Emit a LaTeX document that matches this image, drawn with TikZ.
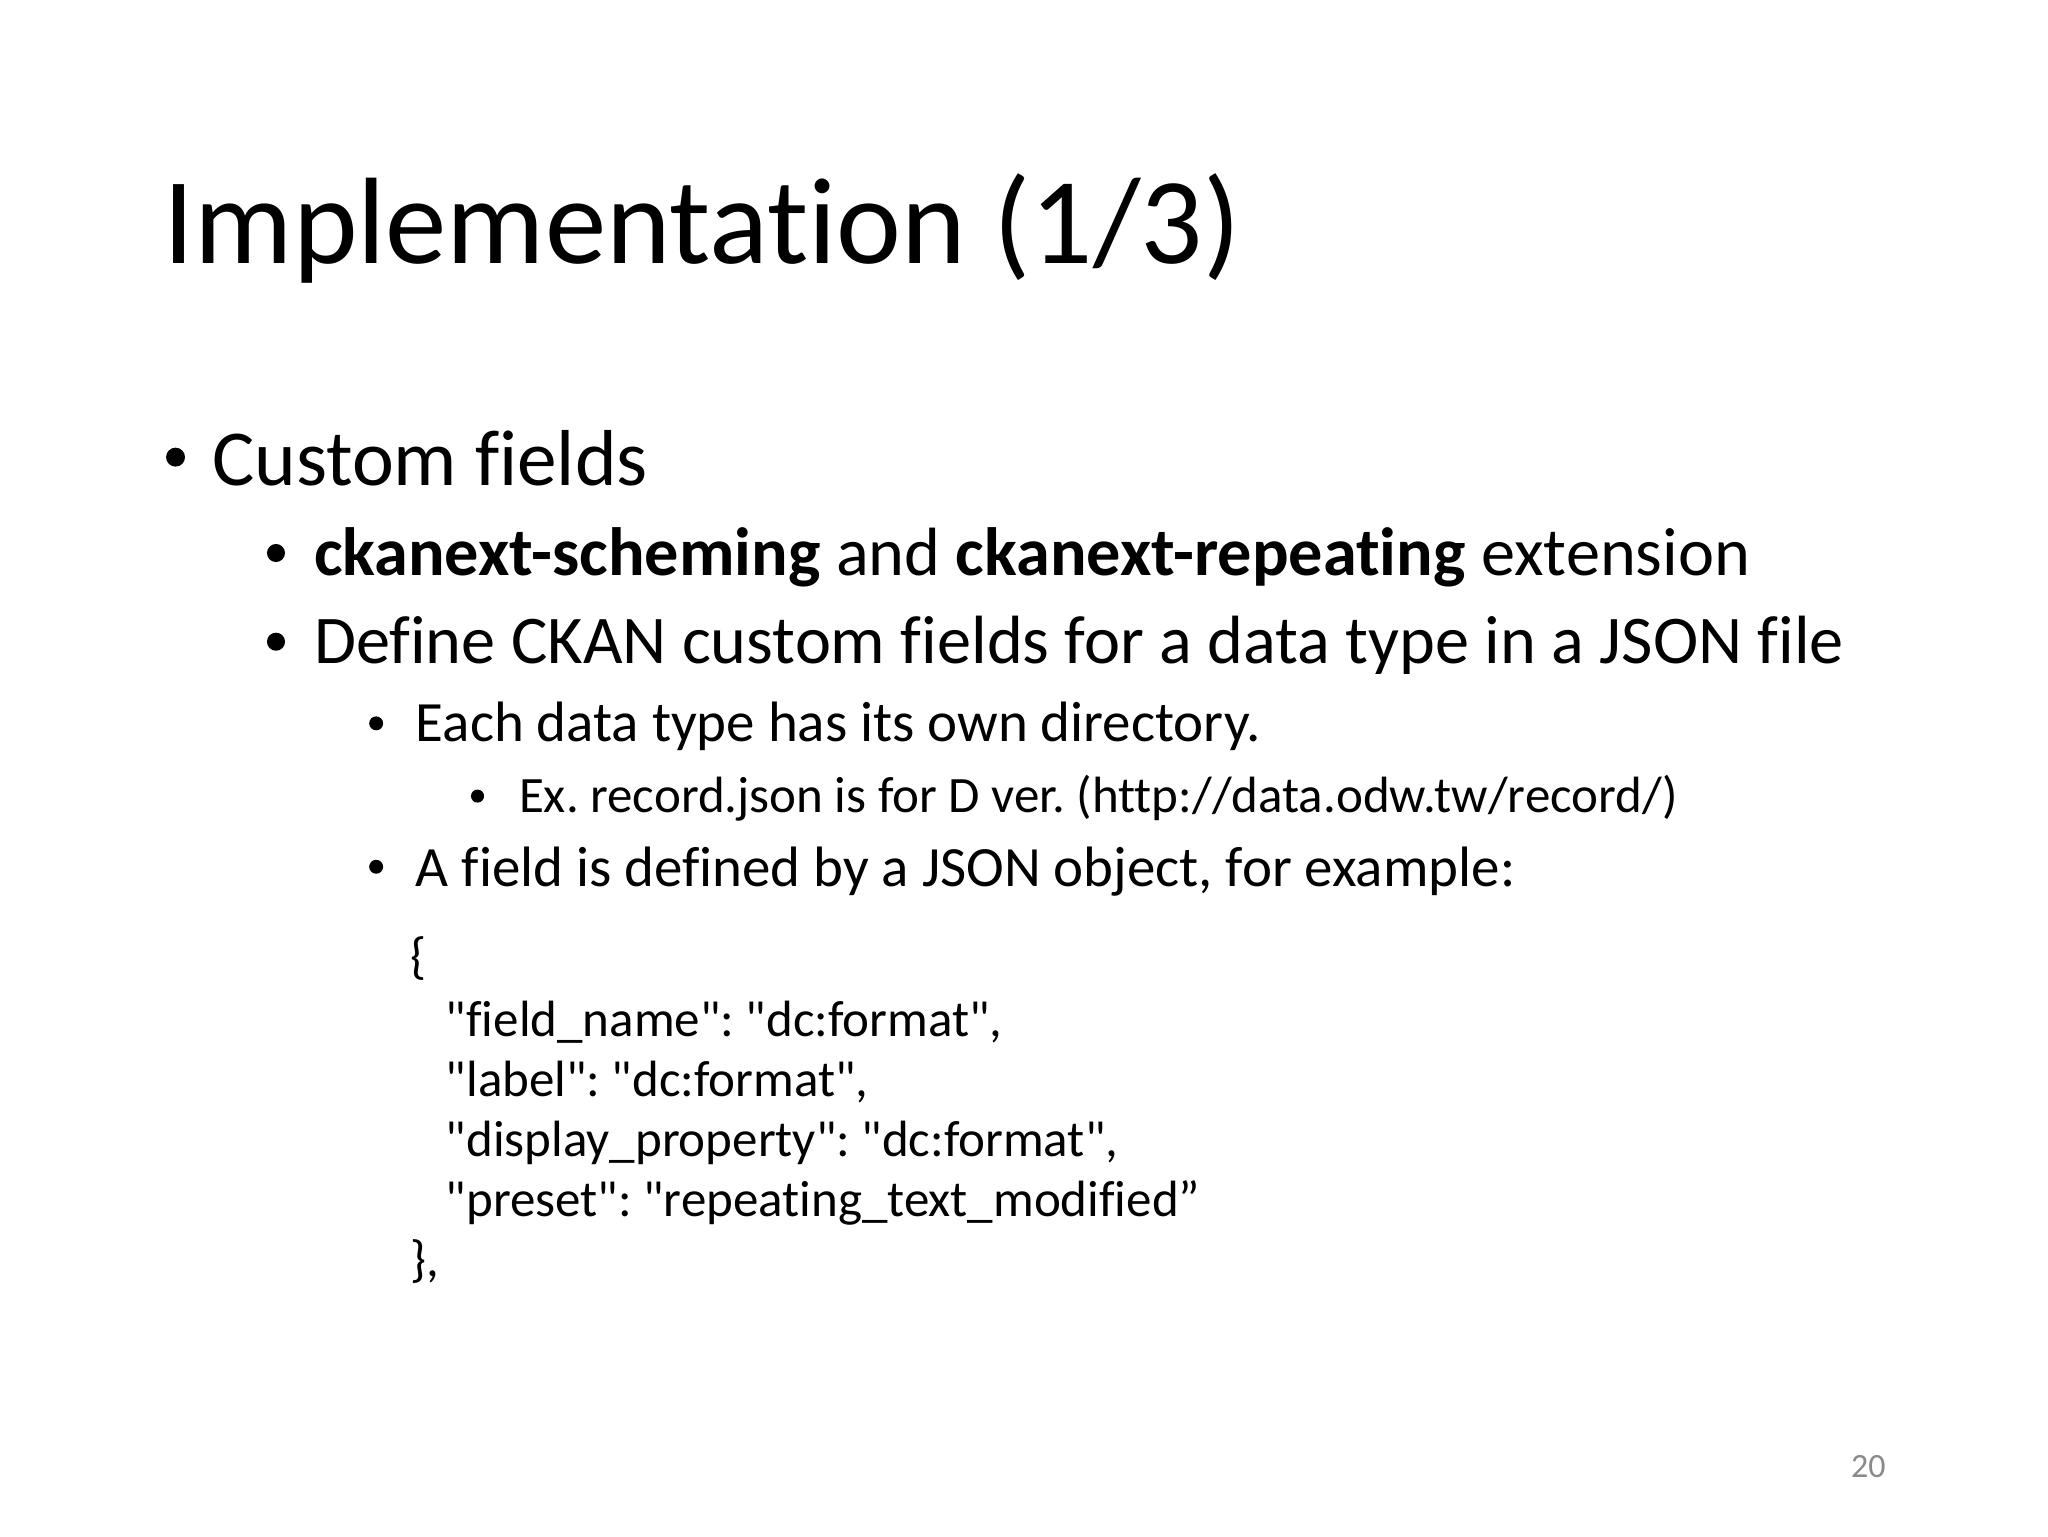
\documentclass[tikz,border=0pt]{standalone}
\usepackage{fontspec}
\setmainfont{Carlito}[Ligatures={CommonOff,TeXOff}]
\frenchspacing
\tikzset{
  line/.style={anchor=base west, inner sep=0pt},
  lvlA/.style={line, font=\fontsize{28}{34}\selectfont},
  lvlB/.style={line, font=\fontsize{24.1}{29}\selectfont},
  lvlC/.style={line, font=\fontsize{20.1}{24}\selectfont},
  lvlD/.style={line, font=\fontsize{18}{22}\selectfont},
  code/.style={line, font=\fontsize{18}{22}\selectfont},
  dot/.style={circle, fill=black, draw=none, inner sep=0pt, minimum size=#1}
}
\begin{document}
\begin{tikzpicture}[x=0.0162cm,y=-0.0162cm]
        \fill[white] (0,0) rectangle (1568,1176);
        \useasboundingbox (0,0) rectangle (1568,1176);
        % title
        \node[line, font=\fontsize{43.4}{52}\selectfont] (title) at (125,202) {Implementation (1/3)};
        % bullets
        \node[dot=0.235cm] (b1) at (134.4,350) {};
        \node[lvlA] (custom) at (162,371.4) {Custom fields};
        \node[dot=0.224cm] (b2) at (211.3,423.4) {};
        \node[lvlB] (ext) at (240,440.3) {\textbf{ckanext-scheming} and \textbf{ckanext-repeating} extension};
        \node[dot=0.224cm] (b3) at (211.3,491.3) {};
        \node[lvlB] (define) at (240,507.9) {Define CKAN custom fields for a data type in a JSON file};
        \node[dot=0.173cm] (b4) at (288,553.8) {};
        \node[lvlC] (dir) at (318,567.9) {Each data type has its own directory.};
        \node[dot=0.162cm] (b5) at (365.6,609.5) {};
        \node[lvlD] (ex) at (397,622.3) {Ex. record.json is for D ver. (http://data.odw.tw/record/)};
        \node[dot=0.173cm] (b6) at (288,663.6) {};
        \node[lvlC] (obj) at (318,678.9) {A field is defined by a JSON object, for example:};
        % json example
        \node[code] (open) at (314,745) {\{};
        \node[code] (fname) at (341,793.8) {"field\_name": "dc:format",};
        \node[code] (flabel) at (341,839.7) {"label": "dc:format",};
        \node[code] (fdisp) at (341,885.7) {"display\_property": "dc:format",};
        \node[code] (fpreset) at (341,931.6) {"preset": "repeating\_text\_modified”};
        \node[code] (close) at (314,977.5) {\},};
        \node[anchor=base east, inner sep=0pt, text=black!46, font=\fontsize{12}{14}\selectfont] (page) at (1444,1131) {20};
\end{tikzpicture}
\end{document}
